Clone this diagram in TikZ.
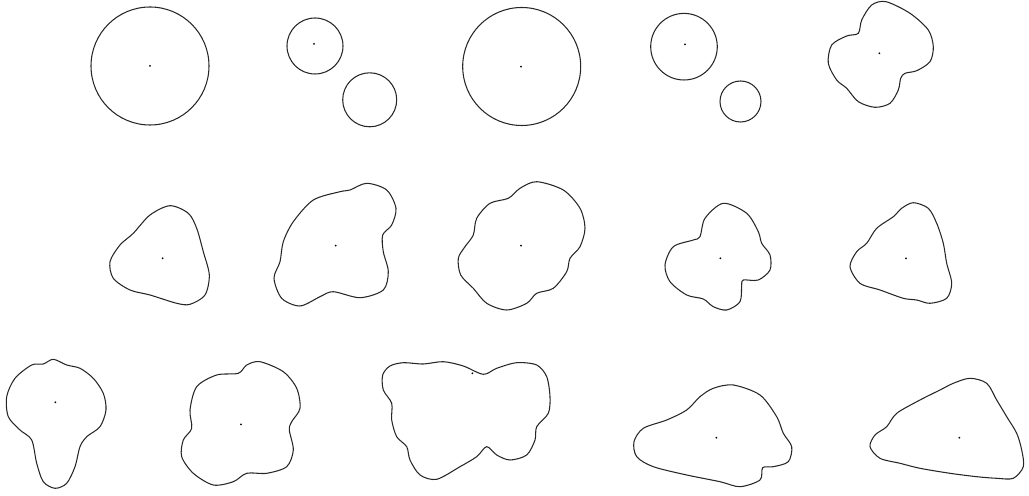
\documentclass[tikz,border=0pt]{standalone}
\begin{document}
\begin{tikzpicture}[x=0.02cm,y=-0.02cm,
  blob/.style={draw=black!85,line width=0.6pt},
  ctr/.style={fill=black,inner sep=0pt,minimum size=0pt}]
\useasboundingbox (0,0) rectangle (1029,496);
% row 1
\draw[blob] (150,66) circle[radius=59];
\fill (150,66) circle[radius=1];
\draw[blob] (315,46) circle[radius=28];
\fill (314,44) circle[radius=1];
\draw[blob] (369.7,99.8) circle[radius=27];
\draw[blob] (521.7,66.5) circle[radius=59];
\fill (521,66.7) circle[radius=1];
\draw[blob] (684,46.7) circle[radius=33.3];
\fill (685,44.3) circle[radius=1];
\draw[blob] (740.5,101.5) circle[radius=20.5];
% shape 5
\draw[blob] plot[smooth cycle] coordinates {(886,1.7) (910,13.3) (928.3,30) (933.3,46.7) (930,61.7) (916.7,70.7) (905,73.3) (900.7,78.3) (898.3,90) (890,103.3) (875,107.3) (858.3,101.7) (846.7,88.3) (836.7,80) (828.3,63.3) (831.7,45) (846.7,36) (858.3,33.3) (861.7,20) (871.7,5)};
\fill (879.3,53.3) circle[radius=1];
% row 2
\draw[blob] plot[smooth cycle] coordinates {(170,205.7) (188.3,213.3) (196.7,228.3) (203.3,251.7) (209.3,275) (205,295) (190,304.3) (176.7,303.3) (150,295) (130,290) (113.3,278.3) (110,261.7) (120,245) (133.3,233.3) (150,215)};
\fill (162.7,258.3) circle[radius=1];
\draw[blob] plot[smooth cycle] coordinates {(366.7,183.3) (386.7,190) (396,208.3) (391.7,225) (382.7,235) (383.3,251.7) (388.3,271.7) (383.3,290) (360,297.7) (333.3,291.7) (320,296.7) (300,306) (281.7,298.3) (274,278.3) (280,261.7) (283.3,241.7) (293.3,221.7) (313.3,200) (340,191.7) (350,190)};
\fill (335.7,245.7) circle[radius=1];
\draw[blob] plot[smooth cycle] coordinates {(536.7,181.7) (563.3,190) (580,208.3) (585,228.3) (580,246.7) (570,258.3) (566.7,271.7) (553.3,288.3) (536.7,293.3) (526.7,303.3) (506.7,310) (486.7,303.3) (473.3,288.3) (460.7,275) (458.3,258.3) (465,246.7) (473.3,235) (476.7,218.3) (490,203.3) (508.3,198.3) (520,188.3)};
\fill (521,245.7) circle[radius=1];
\draw[blob] plot[smooth cycle] coordinates {(723.3,203.3) (746.7,213.3) (758.3,231.7) (761.7,243.3) (770,255) (770,270) (758.3,280) (743.3,280) (741.7,285) (740,301.7) (726.7,310) (713.3,306.7) (703.3,299) (686.7,295) (670,281.7) (665,265) (673.3,246.7) (693.3,240) (700,236.7) (705,218.3)};
\fill (720.3,258.3) circle[radius=1];
\draw[blob] plot[smooth cycle] coordinates {(913.3,202.7) (928.3,208.3) (936.7,223.3) (943.3,243.3) (946.7,263.3) (951.7,283.3) (946.7,298.3) (930,303.3) (916.7,300) (903.3,298.3) (880,290) (860,283.3) (850,266.7) (856.7,251.7) (866.7,243.3) (876.7,228.3) (893.3,216.7) (901.7,208.3)};
\fill (906,258.3) circle[radius=1];
% row 3
\draw[blob] plot[smooth cycle] coordinates {(53.3,359.3) (66.7,365) (80,368.3) (93.3,378.3) (103.3,393.3) (106,410) (100,426.7) (86.7,436.7) (80,446.7) (75,466.7) (66.7,483.3) (55,488.3) (43.3,481.7) (36.7,463.3) (31.7,440) (20,430) (8.3,416.7) (6.7,396.7) (15,378.3) (31.7,365) (43.3,364)};
\fill (55.3,402.3) circle[radius=1];
\draw[blob] plot[smooth cycle] coordinates {(260,361.7) (283.3,371.7) (296.7,388.3) (300,408.3) (291.7,421.7) (289.3,430) (293.3,450) (286.7,466.7) (266.7,473.3) (246.7,473.3) (233.3,481.7) (213.3,485) (193.3,473.3) (181.7,456.7) (183.3,440) (191.7,428.3) (190,410) (196.7,386.7) (216.7,375) (238.3,373.3) (246.7,365)};
\fill (241,424.3) circle[radius=1];
\draw[blob] plot[smooth cycle] coordinates {(483.3,374.3) (496.7,368.3) (516.7,362.7) (536.7,365) (546.7,376.7) (550,396.7) (548.3,413.3) (536.7,426.7) (535,440) (526.7,455) (510,460) (496.7,455) (486.7,446.7) (476.7,456.7) (460,466.7) (436.7,479.3) (420,475) (410,460) (406.7,446.7) (396.7,436.7) (391.7,420) (391.7,403.3) (383.3,390) (382.7,375) (390,366) (403.3,362.7) (423.3,364) (443.3,361.7) (463.3,366)};
\fill (472.3,373.3) circle[radius=1];
\draw[blob] plot[smooth cycle] coordinates {(733.3,385) (760,395) (776.7,416.7) (783.3,433.3) (791.7,446.7) (788.3,461.7) (773.3,466.7) (762.7,467.7) (760,480) (740,486.7) (720,481.7) (686.7,475) (653.3,466.7) (636.7,456.7) (634,441.7) (643.3,428.3) (666.7,420) (686.7,410) (700,396.7) (713.3,388.3)};
\fill (716.3,437.7) circle[radius=1];
\draw[blob] plot[smooth cycle] coordinates {(970,378.3) (986.7,383.3) (996.7,400) (1006.7,416.7) (1016.7,433.3) (1021.7,450) (1023.3,466.7) (1013.3,478.3) (996.7,478.3) (976.7,476.7) (950,473.3) (920,468.3) (900,463.3) (880,458.3) (870,446.7) (875,435) (886.7,426.7) (896.7,413.3) (920,400) (940,390) (953.3,383.3)};
\fill (959.3,437.7) circle[radius=1];
\end{tikzpicture}
\end{document}
